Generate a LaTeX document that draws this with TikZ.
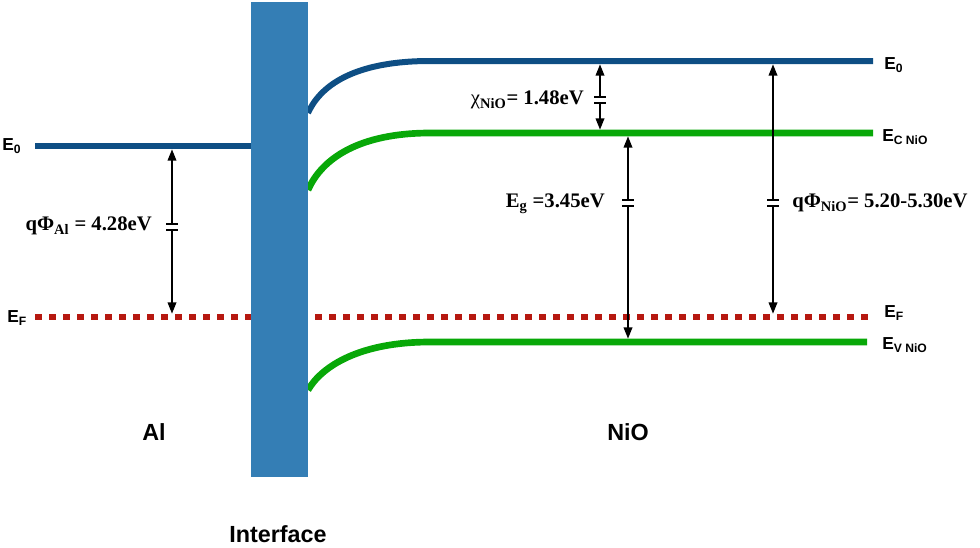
\documentclass[tikz,border=0pt]{standalone}
\usepackage{fontspec}
\setmainfont{Liberation Serif}
\setsansfont{Liberation Sans}
\usetikzlibrary{arrows.meta}

\definecolor{bdVac}{RGB}{14,78,132}
\definecolor{bdBand}{RGB}{8,168,8}
\definecolor{bdFermi}{RGB}{182,24,16}
\definecolor{bdWall}{RGB}{52,126,181}

\tikzset{
  vacline/.style={draw=bdVac, line width=4.5pt},
  bandline/.style={draw=bdBand, line width=5pt},
  fermiline/.style={draw=bdFermi, line width=4.5pt, dash pattern=on 5pt off 5.5pt},
  gaparrow/.style={{Triangle[length=8.5pt,width=6.5pt]}-{Triangle[length=8.5pt,width=6.5pt]}, line width=1.2pt, shorten <=2.5pt, shorten >=2.5pt},
  lvl/.style={font=\sffamily\bfseries\fontsize{13}{15}\selectfont, inner sep=0pt},
  val/.style={font=\bfseries\fontsize{15.5}{18}\selectfont, inner sep=0pt},
  side/.style={font=\sffamily\bfseries\fontsize{17.5}{20}\selectfont, inner sep=0pt},
  gapmark/.pic={
    \fill[white] (-6,-3) rectangle (6,3);
    \draw[line width=1.2pt] (-6,-3) -- (6,-3) (-6,3) -- (6,3);
  }
}

\begin{document}
\begin{tikzpicture}[x=0.75pt, y=-0.75pt]
\useasboundingbox (0,0) rectangle (980,547);
%% ── Level end points ─────────────────────────────────────────────────────
\coordinate (alE0a) at (35,146);   \coordinate (alE0b) at (251,146);
\coordinate (efA)   at (35,317);   \coordinate (efB)   at (870,317);
\coordinate (e0s)   at (308,113);  \coordinate (e0k) at (430,61);  \coordinate (e0e) at (873,61);
\coordinate (ecs)   at (308,190);  \coordinate (eck) at (430,133); \coordinate (ece) at (873,133);
\coordinate (evs)   at (308,390);  \coordinate (evk) at (430,342); \coordinate (eve) at (867,342);
%% ── Fermi level (dotted, runs under the interface) ───────────────────────
\draw[fermiline] (efA) -- (efB);
%% ── Al vacuum level ──────────────────────────────────────────────────────
\draw[vacline] (alE0a) -- (alE0b);
%% ── NiO bent bands ───────────────────────────────────────────────────────
\draw[vacline] (e0s) .. controls (322,82) and (360,61) .. (e0k) -- (e0e);
\draw[bandline] (ecs) .. controls (322,158) and (360,133) .. (eck) -- (ece);
\draw[bandline] (evs) .. controls (322,366) and (360,342) .. (evk) -- (eve);
%% ── Interface wall ───────────────────────────────────────────────────────
\fill[bdWall] (251,2) rectangle (308,477);
%% ── Energy gaps ──────────────────────────────────────────────────────────
\coordinate (alT) at (172,146);  \coordinate (alB) at (172,317);  \coordinate (alM) at (172,227);
\coordinate (chT) at (600,61);   \coordinate (chB) at (600,133);  \coordinate (chM) at (600,100);
\coordinate (egT) at (628,133);  \coordinate (egB) at (628,342);  \coordinate (egM) at (628,203);
\coordinate (niT) at (773,61);   \coordinate (niB) at (773,317);  \coordinate (niM) at (773,203);
\draw[gaparrow] (alT) -- (alB);
\draw[gaparrow] (chT) -- (chB);
\draw[gaparrow] (egT) -- (egB);
\draw[gaparrow] (niT) -- (niB);
\pic at (alM) {gapmark};
\pic at (chM) {gapmark};
\pic at (egM) {gapmark};
\pic at (niM) {gapmark};
%% ── Gap values ───────────────────────────────────────────────────────────
\node[val, anchor=east] (alVal) at (152,226) {qΦ\textsubscript{Al} = 4.28eV};
\node[val, anchor=east] (chVal) at (584,100) {{\mdseries χ}\textsubscript{NiO}= 1.48eV};
\node[val, anchor=east] (egVal) at (605,204) {E\textsubscript{g} =3.45eV};
\node[val, anchor=west] (niVal) at (792,203) {qΦ\textsubscript{NiO}= 5.20-5.30eV};
%% ── Level names ──────────────────────────────────────────────────────────
\node[lvl, anchor=west] (lE0) at (2,146)  {E\textsubscript{0}};
\node[lvl, anchor=west] (lEF) at (7,318)  {E\textsubscript{F}};
\node[lvl, anchor=west] (rE0) at (884,65) {E\textsubscript{0}};
\node[lvl, anchor=west] (rEC) at (882,137) {E\textsubscript{C NiO}};
\node[lvl, anchor=west] (rEF) at (884,313) {E\textsubscript{F}};
\node[lvl, anchor=west] (rEV) at (882,345) {E\textsubscript{V NiO}};
%% ── Side names ───────────────────────────────────────────────────────────
\node[side] (alName)  at (154,432) {Al};
\node[side] (nioName) at (628,432) {NiO};
\node[side] (ifName)  at (278,534) {Interface};
\end{tikzpicture}
\end{document}
